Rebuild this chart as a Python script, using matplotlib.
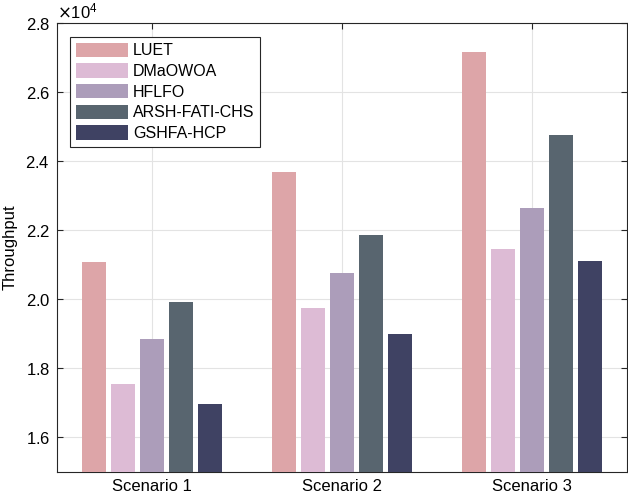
import matplotlib

matplotlib.use("Agg")
import matplotlib.pyplot as plt
import numpy as np
from matplotlib.ticker import ScalarFormatter

plt.rcParams["font.family"] = ["Liberation Sans", "DejaVu Sans"]

scenarios = ["Scenario 1", "Scenario 2", "Scenario 3"]
methods = ["LUET", "DMaOWOA", "HFLFO", "ARSH-FATI-CHS", "GSHFA-HCP"]
colors = ["#dda5a8", "#ddbbd5", "#ac9dba", "#58656f", "#3f4263"]

# throughput per method, one value per scenario
luet = [21080, 23690, 27170]
dmaowoa = [17560, 19750, 21470]
hflfo = [18860, 20750, 22650]
arsh = [19910, 21860, 24760]
gshfa = [16980, 19000, 21120]
values = [luet, dmaowoa, hflfo, arsh, gshfa]

fig = plt.figure(figsize=(6.28, 4.98), dpi=100)
ax = fig.add_axes([0.0908, 0.0522, 0.907, 0.9016])

x = np.arange(1, len(scenarios) + 1)
step = 0.153
width = 0.127
for i, (name, vals) in enumerate(zip(methods, values)):
    ax.bar(x + (i - 2) * step, vals, width, color=colors[i], label=name,
           linewidth=0, zorder=3)

ax.set_xlim(0.5, 3.5)
ax.set_ylim(15000, 28000)
ax.set_xticks(x)
ax.set_xticklabels(scenarios)
ax.set_yticks(np.arange(16000, 28001, 2000))

fmt = ScalarFormatter(useMathText=True)
fmt.set_powerlimits((0, 0))
ax.yaxis.set_major_formatter(fmt)
ax.yaxis.get_offset_text().set_fontsize(12)

ax.set_ylabel("Throughput", fontsize=12, labelpad=6)
ax.tick_params(direction="in", labelsize=12, top=True, right=True,
               length=4, color="#262626", pad=5)
ax.grid(True, color="#e3e3e3", linewidth=0.8, zorder=0)
ax.set_axisbelow(True)
for s in ax.spines.values():
    s.set_color("#262626")
    s.set_linewidth(0.8)

leg = ax.legend(loc="upper left", bbox_to_anchor=(0.023, 0.969), fontsize=11.5,
                fancybox=False, edgecolor="#262626", framealpha=1,
                borderaxespad=0, handlelength=3.3, handleheight=1.0,
                labelspacing=0.32, borderpad=0.35, handletextpad=0.3)
leg.get_frame().set_linewidth(0.8)

fig.savefig("out.png", dpi=100)
plt.close(fig)
